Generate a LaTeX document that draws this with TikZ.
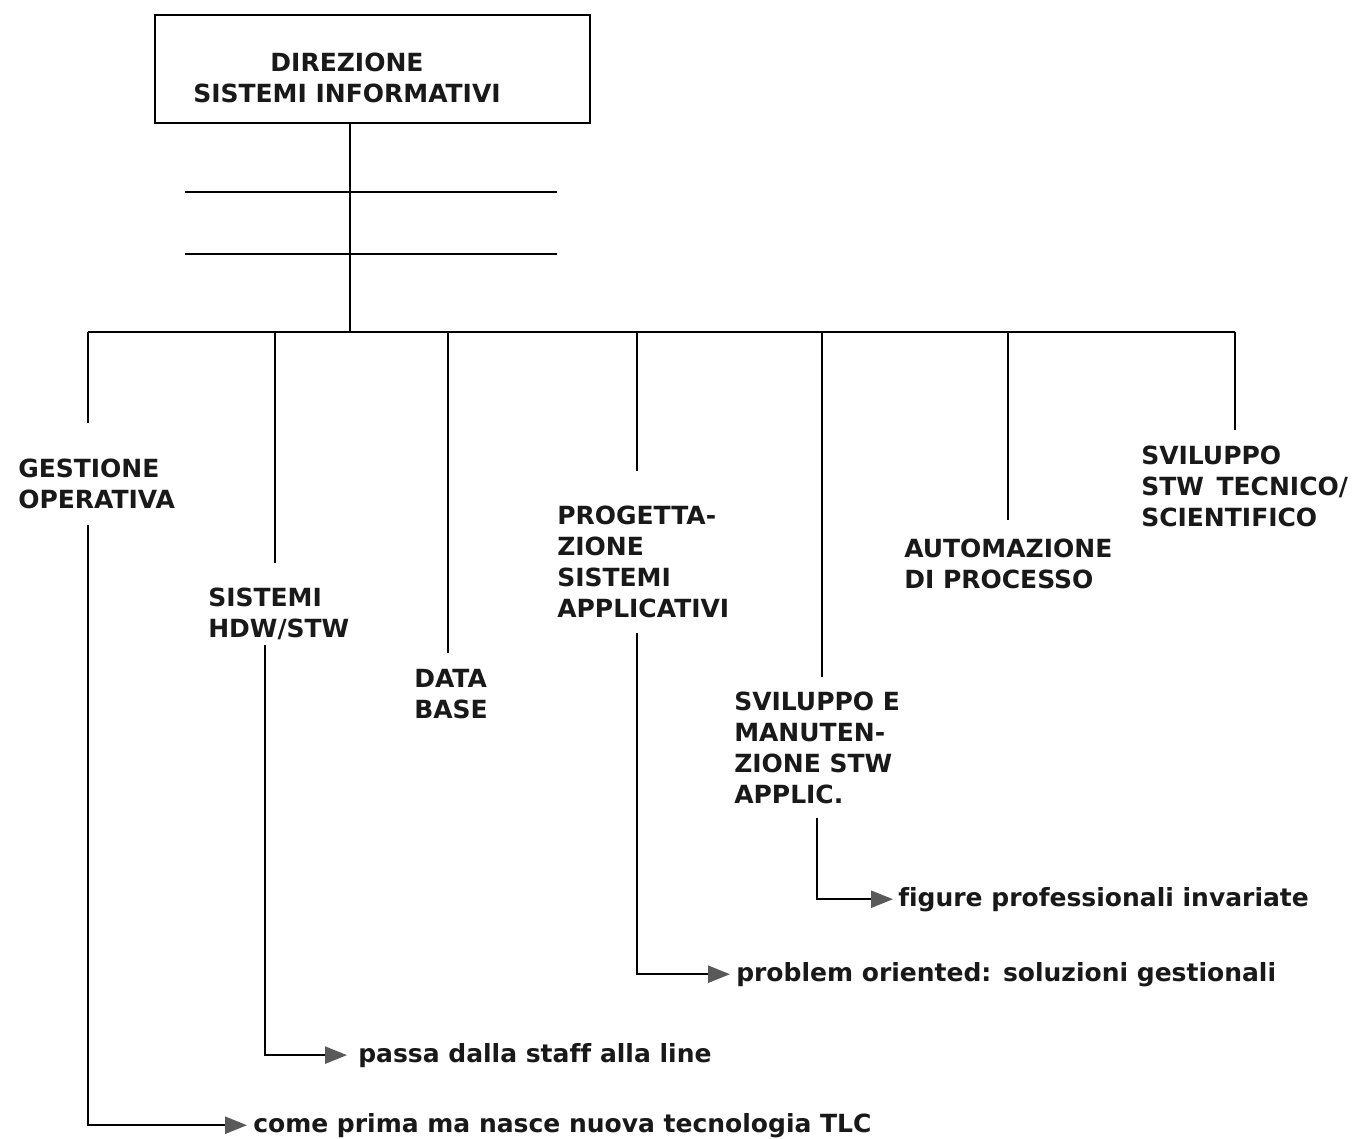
\documentclass[tikz,border=0pt]{standalone}
\usepackage{fontspec}
\setmainfont{DejaVu Sans}[Ligatures=NoCommon]
\usetikzlibrary{arrows.meta, positioning, calc}
\newcommand{\UnitFont}{\fontsize{25}{31}\selectfont\bfseries}
\tikzset{
  every picture/.style={line width=2.5pt, x=1pt, y=-1pt},
  head/.style={draw, line width=2.5pt, minimum width=435pt, minimum height=108pt, inner sep=0pt},
  unit/.style={anchor=north west, inner sep=0pt, align=left, font=\UnitFont, text=black!90},
  note/.style={anchor=base west, inner sep=0pt, font=\UnitFont, text=black!90},
  tolabel/.style={-{Triangle[length=22pt, width=17pt, color=black!65]}},
  every node/.style={font=\UnitFont}
}

\begin{document}
\begin{tikzpicture}
  \path[fill=white] (0,0) rectangle (1364,1138);
  \useasboundingbox (0,0) rectangle (1364,1138);

  % top of the tree
  \node [head] (dsi) at (372.5,69) {};
  \node [inner sep=0pt, align=center, anchor=north, text=black!90] (dsitxt) at (347,52) {DIREZIONE\\SISTEMI INFORMATIVI};

  % bus and drop points
  \coordinate (hub) at (350,332);
  \coordinate (b1) at (88,332);
  \coordinate (b2) at (275,332);
  \coordinate (b3) at (448,332);
  \coordinate (b4) at (637,332);
  \coordinate (b5) at (822,332);
  \coordinate (b6) at (1008,332);
  \coordinate (b7) at (1235,332);

  % units
  \node [unit] (gest) at (17,458) {GESTIONE\\OPERATIVA};
  \node [unit] (hdw) at (207,587) {SISTEMI\\HDW/STW};
  \node [unit] (db) at (413,668) {DATA\\BASE};
  \node [unit] (prog) at (556,505) {PROGETTA-\\ZIONE\\SISTEMI\\APPLICATIVI};
  \node [unit] (svil) at (733,691) {SVILUPPO E\\MANUTEN-\\ZIONE STW\\APPLIC.};
  \node [unit] (aut) at (903,538) {AUTOMAZIONE\\DI PROCESSO};
  \node [unit] (sts) at (1140,445) {SVILUPPO\\STW\hspace{4pt} TECNICO/\\SCIENTIFICO};

  % notes on the changes
  \node [note] (fig) at (897,906) {figure professionali invariate};
  \node [note] (prob) at (735,981) {problem oriented: soluzioni gestionali};
  \node [note] (pass) at (357,1062) {passa dalla staff alla line};
  \node [note] (come) at (252,1132) {come prima ma nasce nuova tecnologia TLC};

  % staff lines
  \draw (185,192) -- (557,192);
  \draw (185,254) -- (557,254);

  \draw (hub |- dsi.south) -- (hub);
  \draw (b1) -- (b7);

  \draw (b1) -- ([yshift=35pt]gest.north -| b1);
  \draw (b2) -- ([yshift=24pt]hdw.north -| b2);
  \draw (b3) -- ([yshift=15pt]db.north -| b3);
  \draw (b4) -- ([yshift=34pt]prog.north -| b4);
  \draw (b5) -- ([yshift=14pt]svil.north -| b5);
  \draw (b6) -- ([yshift=18pt]aut.north -| b6);
  \draw (b7) -- ([yshift=15pt]sts.north -| b7);

  \coordinate (gestout) at (88,525);
  \coordinate (hdwout) at (265,645);
  \coordinate (progout) at (637,633);
  \coordinate (svilout) at (817,818);

  \draw [tolabel] (gestout) |- ([xshift=-5pt]come.west);
  \draw [tolabel] (hdwout) |- ([xshift=-10pt]pass.west);
  \draw [tolabel] (progout) |- ([xshift=-5pt]prob.west);
  \draw [tolabel] (svilout) |- ([xshift=-4pt]fig.west);
\end{tikzpicture}
\end{document}
